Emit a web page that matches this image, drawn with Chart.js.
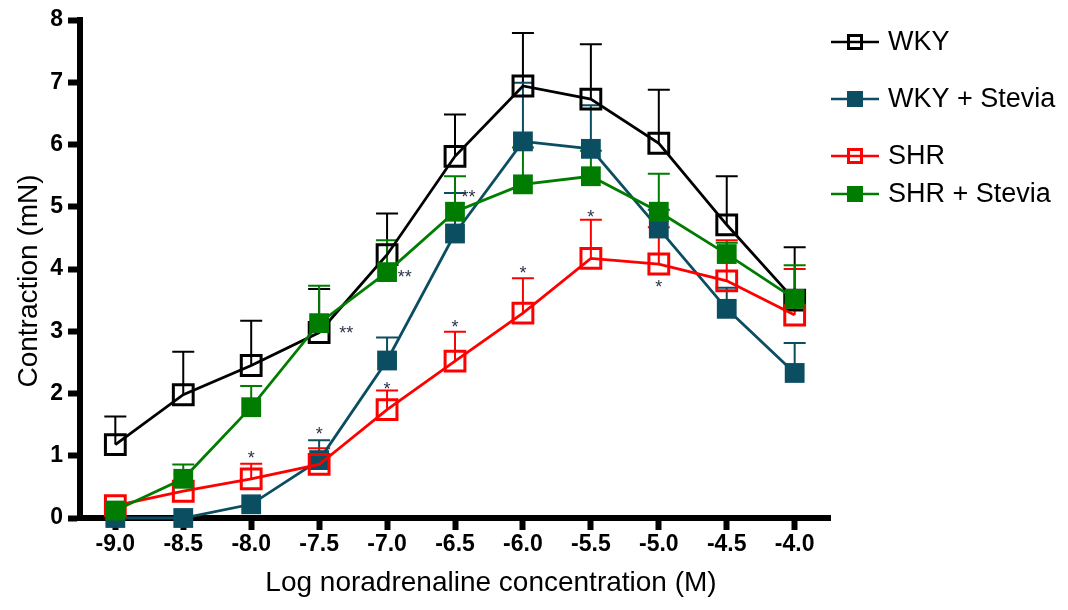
<!DOCTYPE html>
<html>
<head>
<meta charset="utf-8">
<title>Noradrenaline concentration-response</title>
<script src="https://cdn.jsdelivr.net/npm/chart.js@4.4.1/dist/chart.umd.min.js"></script>
<style>
    html, body { margin: 0; padding: 0; background: #ffffff; }
    #wrap { position: relative; width: 1068px; height: 610px; }
</style>
</head>
<body>
<div id="wrap"><canvas id="crcChart"></canvas></div>
<script>
// Log [noradrenaline] (M)
const logConc = [-9.0, -8.5, -8.0, -7.5, -7.0, -6.5, -6.0, -5.5, -5.0, -4.5, -4.0];
const xTicks = [-9.0, -8.5, -8.0, -7.5, -7.0, -6.5, -6.0, -5.5, -5.0, -4.5, -4.0];
const yTicks = [0, 1, 2, 3, 4, 5, 6, 7, 8];

// Mean contraction (mN)
const wky = [1.18, 1.98, 2.45, 2.98, 4.23, 5.81, 6.94, 6.73, 6.02, 4.71, 3.50];
const wkyStevia = [0.0, 0.0, 0.22, 0.93, 2.53, 4.57, 6.05, 5.93, 4.65, 3.36, 2.33];
const shr = [0.20, 0.43, 0.63, 0.86, 1.74, 2.52, 3.29, 4.17, 4.08, 3.81, 3.26];
const shrStevia = [0.12, 0.63, 1.78, 3.13, 3.95, 4.92, 5.36, 5.49, 4.92, 4.24, 3.52];

// SEM (upper bars only)
const wkySem = [0.45, 0.69, 0.72, 0.70, 0.66, 0.67, 0.85, 0.88, 0.86, 0.78, 0.85];
const wkySteviaSem = [0, 0, 0, 0.32, 0.37, 0.65, 0.94, 0.70, 0.30, 0.34, 0.48];
const shrSem = [0, 0, 0.24, 0.26, 0.31, 0.47, 0.56, 0.62, 0.59, 0.65, 0.74];
const shrSteviaSem = [0, 0.23, 0.34, 0.60, 0.51, 0.57, 0.59, 0.41, 0.61, 0.18, 0.54];

// significance marks: [log conc, y (mN), text, x shift in log units]
const sigMarks = [
    [-8.0, 1.03, '*', 0],
    [-7.5, 1.42, '*', 0],
    [-7.0, 2.13, '*', 0],
    [-7.5, 3.04, '**', 0.2],
    [-7.0, 3.93, '**', 0.13],
    [-6.5, 5.22, '**', 0.1],
    [-6.5, 3.13, '*', 0],
    [-6.0, 4.00, '*', 0],
    [-5.5, 4.90, '*', 0],
    [-5.0, 3.77, '*', 0]
];

const xTitle = 'Log noradrenaline concentration (M)';
const yTitle = 'Contraction (mN)';

// legend rows (y in px)
const legendRows = [42, 99, 156, 194];

const FONT = '"Liberation Sans", Arial, Helvetica, sans-serif';
const BLACK = '#000000';
const TEAL = '#0b4d61';
const RED = '#ff0000';
const GREEN = '#007d00';

function toPoints(values) {
    return values.map((v, i) => ({ x: logConc[i], y: v }));
}

const series = [
    { label: 'WKY', data: wky, sem: wkySem, color: BLACK, filled: false, order: 4 },
    { label: 'WKY + Stevia', data: wkyStevia, sem: wkySteviaSem, color: TEAL, filled: true, order: 3 },
    { label: 'SHR', data: shr, sem: shrSem, color: RED, filled: false, order: 2 },
    { label: 'SHR + Stevia', data: shrStevia, sem: shrSteviaSem, color: GREEN, filled: true, order: 1 }
];

// upper error bars, drawn under the markers
const errorBars = {
    id: 'errorBars',
    beforeDatasetsDraw(chart) {
        const { ctx, scales: { x, y } } = chart;
        ctx.save();
        ctx.lineWidth = 2;
        series.forEach(s => {
            ctx.strokeStyle = s.color;
            s.data.forEach((v, i) => {
                if (!s.sem[i]) return;
                const px = x.getPixelForValue(logConc[i]);
                const y0 = y.getPixelForValue(v);
                const y1 = y.getPixelForValue(v + s.sem[i]);
                ctx.beginPath();
                ctx.moveTo(px, y0);
                ctx.lineTo(px, y1);
                ctx.moveTo(px - 11, y1);
                ctx.lineTo(px + 11, y1);
                ctx.stroke();
            });
        });
        ctx.restore();
    }
};

// asterisks
const sigStars = {
    id: 'sigStars',
    afterDatasetsDraw(chart) {
        const { ctx, scales: { x, y } } = chart;
        ctx.save();
        ctx.fillStyle = '#2b3347';
        ctx.font = '18px ' + FONT;
        ctx.textAlign = 'center';
        ctx.textBaseline = 'middle';
        sigMarks.forEach(([cx, cy, txt, dx]) => {
            ctx.fillText(txt, x.getPixelForValue(cx + dx), y.getPixelForValue(cy) + 5);
        });
        ctx.restore();
    }
};

// axis titles
const axisTitles = {
    id: 'axisTitles',
    afterDraw(chart) {
        const ctx = chart.ctx;
        ctx.save();
        ctx.fillStyle = '#000000';
        ctx.font = '28px ' + FONT;
        ctx.textAlign = 'center';
        ctx.textBaseline = 'middle';
        ctx.fillText(xTitle, 491, 583);
        ctx.translate(29, 281);
        ctx.rotate(-Math.PI / 2);
        ctx.fillText(yTitle, 0, 0);
        ctx.restore();
    }
};

// legend on the right, line + marker + label
const sideLegend = {
    id: 'sideLegend',
    afterDraw(chart) {
        const ctx = chart.ctx;
        ctx.save();
        series.forEach((s, i) => {
            const ly = legendRows[i];
            ctx.strokeStyle = s.color;
            ctx.lineWidth = 2.5;
            ctx.beginPath();
            ctx.moveTo(831, ly);
            ctx.lineTo(879, ly);
            ctx.stroke();
            const half = 8;
            if (s.filled) {
                ctx.fillStyle = s.color;
                ctx.fillRect(855 - half, ly - half, half * 2, half * 2);
            } else {
                ctx.fillStyle = '#ffffff';
                ctx.fillRect(855 - half, ly - half, half * 2, half * 2);
                ctx.lineWidth = 3;
                ctx.strokeRect(855 - half + 1.5, ly - half + 1.5, half * 2 - 3, half * 2 - 3);
                ctx.beginPath();
                ctx.lineWidth = 2.5;
                ctx.moveTo(855 - half, ly);
                ctx.lineTo(855 + half, ly);
                ctx.stroke();
            }
            ctx.fillStyle = '#000000';
            ctx.font = '27px ' + FONT;
            ctx.textAlign = 'left';
            ctx.textBaseline = 'middle';
            ctx.fillText(s.label, 888, ly + 1);
        });
        ctx.restore();
    }
};

const ctx = document.getElementById('crcChart').getContext('2d');

new Chart(ctx, {
    type: 'line',
    data: {
        datasets: series.map(s => ({
            label: s.label,
            data: toPoints(s.data),
            borderColor: s.color,
            backgroundColor: s.filled ? s.color : 'rgba(0,0,0,0)',
            borderWidth: 2.8,
            pointStyle: 'rect',
            pointRadius: 14,
            pointBorderWidth: s.filled ? 0 : 3,
            pointBorderColor: s.color,
            pointBackgroundColor: s.filled ? s.color : 'rgba(0,0,0,0)',
            tension: 0,
            clip: false,
            order: s.order
        }))
    },
    options: {
        responsive: true,
        maintainAspectRatio: false,
        animation: false,
        layout: {
            padding: { left: 0, top: 20, right: 238, bottom: 0 }
        },
        plugins: {
            legend: { display: false },
            tooltip: { enabled: false }
        },
        scales: {
            x: {
                type: 'linear',
                z: 1,
                min: -9.26,
                max: -3.74,
                afterBuildTicks: axis => {
                    axis.ticks = xTicks.map(v => ({ value: v }));
                },
                afterFit: axis => { axis.height = 92; },
                border: { display: true, color: BLACK, width: 6 },
                grid: {
                    drawOnChartArea: false,
                    drawTicks: true,
                    tickLength: 12,
                    tickWidth: 6,
                    tickColor: BLACK
                },
                ticks: {
                    padding: 1,
                    color: '#000',
                    font: { family: FONT, size: 23, weight: 'bold' },
                    callback: v => v.toFixed(1),
                    maxRotation: 0,
                    autoSkip: false
                }
            },
            y: {
                z: 1,
                min: 0,
                max: 8,
                afterBuildTicks: axis => {
                    axis.ticks = yTicks.map(v => ({ value: v }));
                },
                afterFit: axis => { axis.width = 80; },
                border: { display: true, color: BLACK, width: 6 },
                grid: {
                    drawOnChartArea: false,
                    drawTicks: true,
                    tickLength: 12,
                    tickWidth: 6,
                    tickColor: BLACK
                },
                ticks: {
                    padding: 5,
                    color: '#000',
                    font: { family: FONT, size: 23, weight: 'bold' }
                }
            }
        }
    },
    plugins: [errorBars, sigStars, axisTitles, sideLegend]
});
</script>
</body>
</html>
